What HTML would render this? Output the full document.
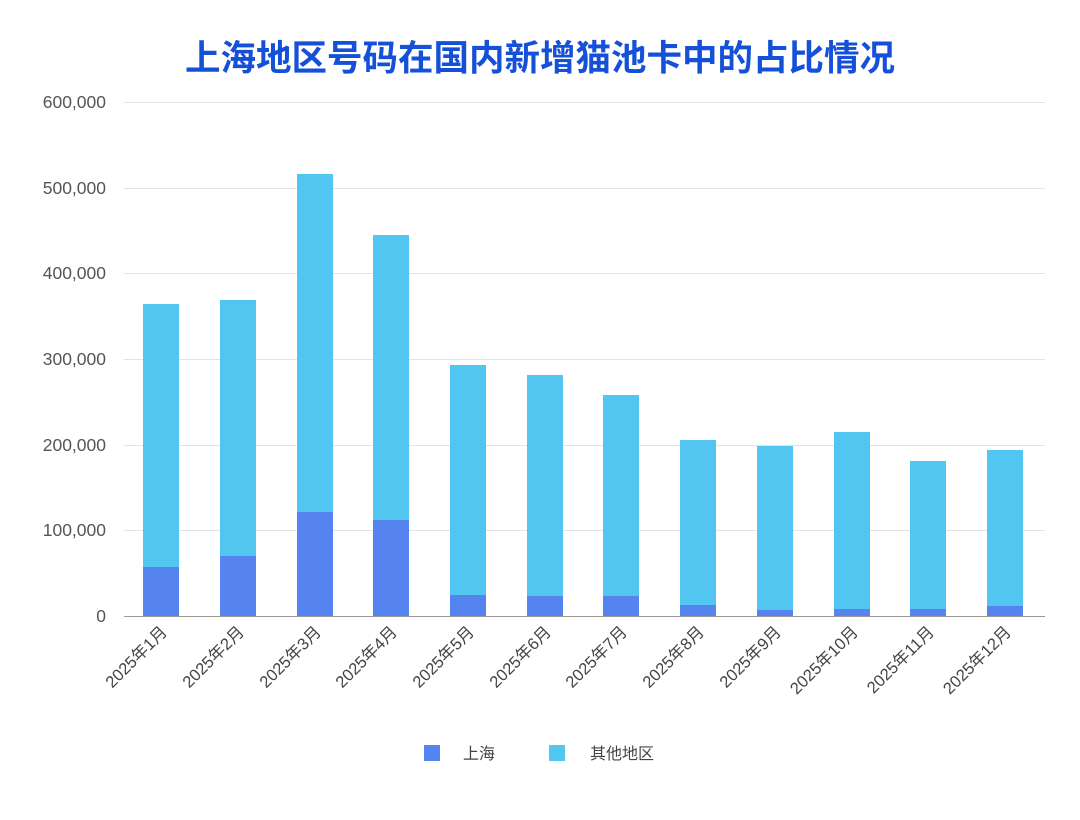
<!DOCTYPE html>
<html><head><meta charset="utf-8"><style>
body{margin:0;background:#fff;}
text{font-family:"Liberation Sans","Noto Sans CJK SC",sans-serif;}
</style></head><body>
<svg width="1080" height="815" viewBox="0 0 1080 815" xmlns="http://www.w3.org/2000/svg">
<rect width="1080" height="815" fill="#fff"/>
<text x="540" y="70" text-anchor="middle" font-size="35.5" font-weight="bold" fill="#1550d8">上海地区号码在国内新增猫池卡中的占比情况</text>
<g stroke="#e3e3e3" stroke-width="1">
<line x1="124" x2="1045" y1="102.5" y2="102.5"/>
<line x1="124" x2="1045" y1="188.5" y2="188.5"/>
<line x1="124" x2="1045" y1="273.5" y2="273.5"/>
<line x1="124" x2="1045" y1="359.5" y2="359.5"/>
<line x1="124" x2="1045" y1="445.5" y2="445.5"/>
<line x1="124" x2="1045" y1="530.5" y2="530.5"/>
</g>
<g font-size="17.5" fill="#555" text-anchor="end">
<text x="106" y="108">600,000</text>
<text x="106" y="194">500,000</text>
<text x="106" y="279">400,000</text>
<text x="106" y="365">300,000</text>
<text x="106" y="451">200,000</text>
<text x="106" y="536">100,000</text>
<text x="106" y="622">0</text>
</g>
<g fill="#52c5f0">
<rect x="143" y="304" width="36" height="263"/>
<rect x="220" y="300" width="36" height="256"/>
<rect x="297" y="174" width="36" height="338"/>
<rect x="373" y="235" width="36" height="285"/>
<rect x="450" y="365" width="36" height="230"/>
<rect x="527" y="375" width="36" height="221"/>
<rect x="603" y="395" width="36" height="201"/>
<rect x="680" y="440" width="36" height="165"/>
<rect x="757" y="446" width="36" height="164"/>
<rect x="834" y="432" width="36" height="177"/>
<rect x="910" y="461" width="36" height="148"/>
<rect x="987" y="450" width="36" height="156"/>
</g>
<g fill="#5584f0">
<rect x="143" y="567" width="36" height="49"/>
<rect x="220" y="556" width="36" height="60"/>
<rect x="297" y="512" width="36" height="104"/>
<rect x="373" y="520" width="36" height="96"/>
<rect x="450" y="595" width="36" height="21"/>
<rect x="527" y="596" width="36" height="20"/>
<rect x="603" y="596" width="36" height="20"/>
<rect x="680" y="605" width="36" height="11"/>
<rect x="757" y="610" width="36" height="6"/>
<rect x="834" y="609" width="36" height="7"/>
<rect x="910" y="609" width="36" height="7"/>
<rect x="987" y="606" width="36" height="10"/>
</g>
<line x1="124" x2="1045" y1="616.5" y2="616.5" stroke="#999"/>
<g font-size="16.5" fill="#444" text-anchor="end">
<text transform="translate(168,633) rotate(-45)">2025年1月</text>
<text transform="translate(245,633) rotate(-45)">2025年2月</text>
<text transform="translate(322,633) rotate(-45)">2025年3月</text>
<text transform="translate(398,633) rotate(-45)">2025年4月</text>
<text transform="translate(475,633) rotate(-45)">2025年5月</text>
<text transform="translate(552,633) rotate(-45)">2025年6月</text>
<text transform="translate(628,633) rotate(-45)">2025年7月</text>
<text transform="translate(705,633) rotate(-45)">2025年8月</text>
<text transform="translate(782,633) rotate(-45)">2025年9月</text>
<text transform="translate(859,633) rotate(-45)">2025年10月</text>
<text transform="translate(935,633) rotate(-45)">2025年11月</text>
<text transform="translate(1012,633) rotate(-45)">2025年12月</text>
</g>
<rect x="424" y="745" width="16" height="16" fill="#5584f0"/>
<text x="463" y="759" font-size="16" fill="#444">上海</text>
<rect x="549" y="745" width="16" height="16" fill="#52c5f0"/>
<text x="590" y="759" font-size="16" fill="#444">其他地区</text>
</svg>
</body></html>
